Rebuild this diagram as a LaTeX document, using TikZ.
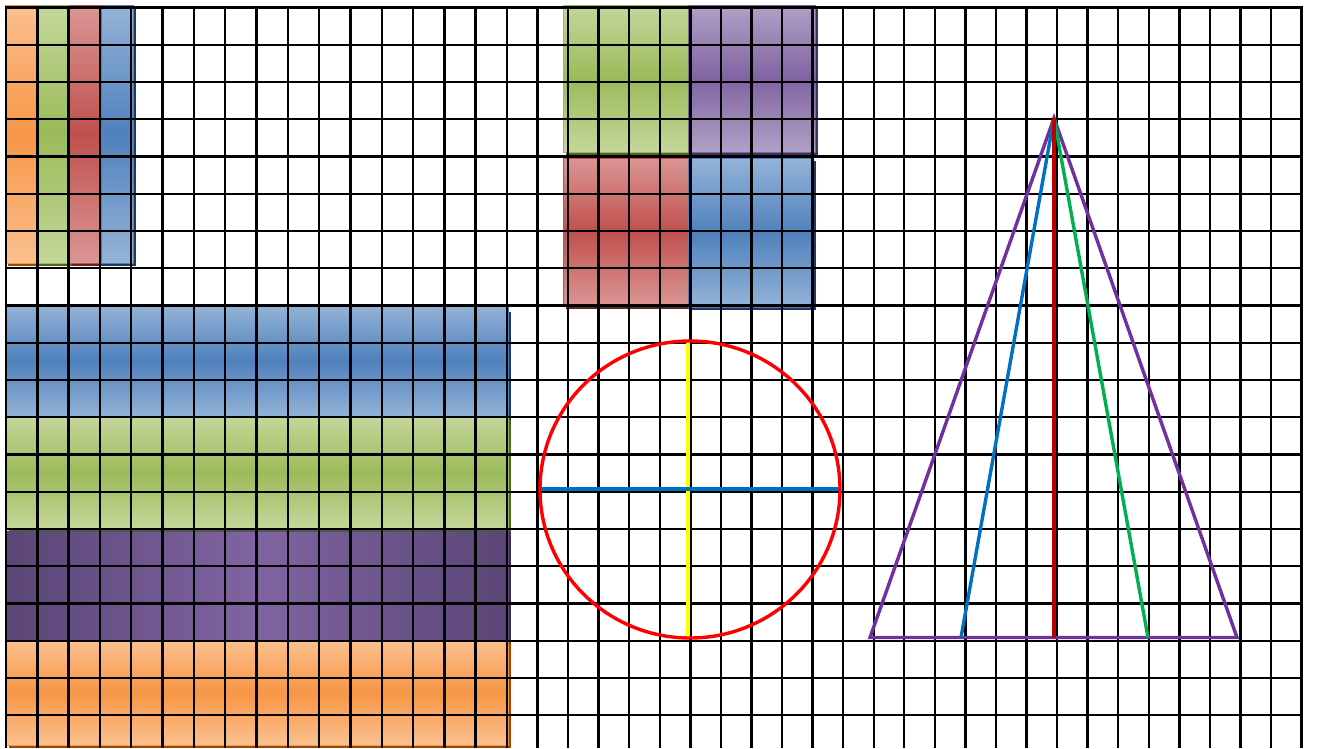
\documentclass[tikz,border=0pt]{standalone}
\usepackage{tikz}
\usetikzlibrary{calc}
\definecolor{GrdOrange}{HTML}{F79646}
\definecolor{GrdOrangeLt}{HTML}{FBC08F}
\definecolor{GrdOrangeDk}{HTML}{984807}
\definecolor{GrdGreen}{HTML}{9BBB59}
\definecolor{GrdGreenLt}{HTML}{C4D79B}
\definecolor{GrdGreenDk}{HTML}{4F6228}
\definecolor{GrdRed}{HTML}{C0504D}
\definecolor{GrdRedLt}{HTML}{DA9694}
\definecolor{GrdRedDk}{HTML}{632523}
\definecolor{GrdBlue}{HTML}{4F81BD}
\definecolor{GrdBlueLt}{HTML}{95B3D7}
\definecolor{GrdBlueDk}{HTML}{1F3864}
\definecolor{GrdPurple}{HTML}{8064A2}
\definecolor{GrdPurpleLt}{HTML}{B1A0C7}
\definecolor{GrdPurpleDk}{HTML}{3F3151}
\definecolor{GrdPlum}{HTML}{5A4676}
\definecolor{LnRed}{HTML}{FF0000}
\definecolor{LnYellow}{HTML}{FFFF00}
\definecolor{LnBlue}{HTML}{0070C0}
\definecolor{LnPurple}{HTML}{7030A0}
\definecolor{LnGreen}{HTML}{00B050}
\definecolor{LnDarkRed}{HTML}{C00000}

\begin{document}
\begin{tikzpicture}[
      x=1pt,y=-1pt,
      bar/.style 2 args={top color=#1,bottom color=#1,middle color=#2,draw=#2,line width=0.8pt},
      cast/.style={fill=#1},
      gridline/.style={line width=2.4pt,black},
      stroke/.style={line width=3.4pt,color=#1}
    ]
      \useasboundingbox[fill=white] (0,0) rectangle (1320,748);
      % top left bars
      \foreach \i/\lt/\dk/\sh in {0/GrdOrangeLt/GrdOrange/GrdOrangeDk,1/GrdGreenLt/GrdGreen/GrdGreenDk,
                                  2/GrdRedLt/GrdRed/GrdRedDk,3/GrdBlueLt/GrdBlue/GrdBlueDk} {
        \pgfmathsetmacro\bx{5+32*\i}
        \fill[cast=\sh] (\bx+3,8) rectangle (\bx+35,266);
        \shade[bar={\lt}{\dk}] (\bx,5) rectangle (\bx+32,263);
      }
      % bottom left bands
      \fill[cast=GrdBlueDk] (9,312) rectangle (511,420);
      \shade[bar={GrdBlueLt}{GrdBlue}] (6,305) rectangle (508,417);
      \fill[cast=GrdGreenDk] (9,420) rectangle (511,531);
      \shade[bar={GrdGreenLt}{GrdGreen}] (6,417) rectangle (508,528);
      \fill[cast=GrdPurpleDk] (9,531) rectangle (511,643);
      \shade[left color=GrdPlum,right color=GrdPlum,middle color=GrdPurple,draw=GrdPlum,line width=0.8pt]
        (6,531) rectangle (508,640);
      \fill[cast=GrdOrangeDk] (9,643) rectangle (511,748);
      \shade[bar={GrdOrangeLt}{GrdOrange}] (6,640) rectangle (508,745);
      % top middle blocks
      \fill[cast=GrdGreenDk] (566,8) rectangle (691,155);
      \shade[bar={GrdGreenLt}{GrdGreen}] (563,5) rectangle (688,152);
      \fill[cast=GrdPurpleDk] (691,8) rectangle (818,155);
      \shade[bar={GrdPurpleLt}{GrdPurple}] (688,5) rectangle (815,152);
      \fill[cast=GrdRedDk] (566,161) rectangle (691,309);
      \shade[bar={GrdRedLt}{GrdRed}] (563,158) rectangle (688,305);
      \fill[cast=GrdBlueDk] (691,161) rectangle (816,310);
      \shade[bar={GrdBlueLt}{GrdBlue}] (688,158) rectangle (813,307);
      % grid
      \foreach \k in {0,...,19} {
        \pgfmathsetmacro\gy{7.5+37.25*\k}
        \draw[gridline] (6,\gy) -- (1302,\gy);
      }
      \foreach \k in {0,...,42} {
        \pgfmathsetmacro\gx{\k<=16 ? 6+31.31*\k : 507+30.56*(\k-16)}
        \draw[gridline] (\gx,6.3) -- (\gx,748);
      }
      % circle
      \coordinate (ctr) at (690,489.5);
      \coordinate (cTop) at (688,341);
      \coordinate (cBot) at (688,638);
      \coordinate (cLeft) at (540,489);
      \coordinate (cRight) at (840,489);
      \draw[stroke=LnYellow] (cTop) -- (cBot);
      \draw[stroke=LnBlue] (cLeft) -- (cRight);
      \draw[stroke=LnRed] (ctr) ellipse [x radius=150,y radius=148.5];
      % triangle
      \coordinate (apex) at (1054,118);
      \coordinate (bL) at (870,637.5);
      \coordinate (bR) at (1237,637.5);
      \coordinate (bBlue) at (961,637.5);
      \coordinate (bGreen) at (1148,637.5);
      \draw[stroke=LnPurple] (apex) -- (bR) -- (bL) -- cycle;
      \draw[stroke=LnBlue] (apex) -- (bBlue);
      \draw[stroke=LnGreen] (apex) -- (bGreen);
      \draw[stroke=LnDarkRed,line width=4pt] (apex) -- (apex |- bL);
    \end{tikzpicture}
\end{document}
